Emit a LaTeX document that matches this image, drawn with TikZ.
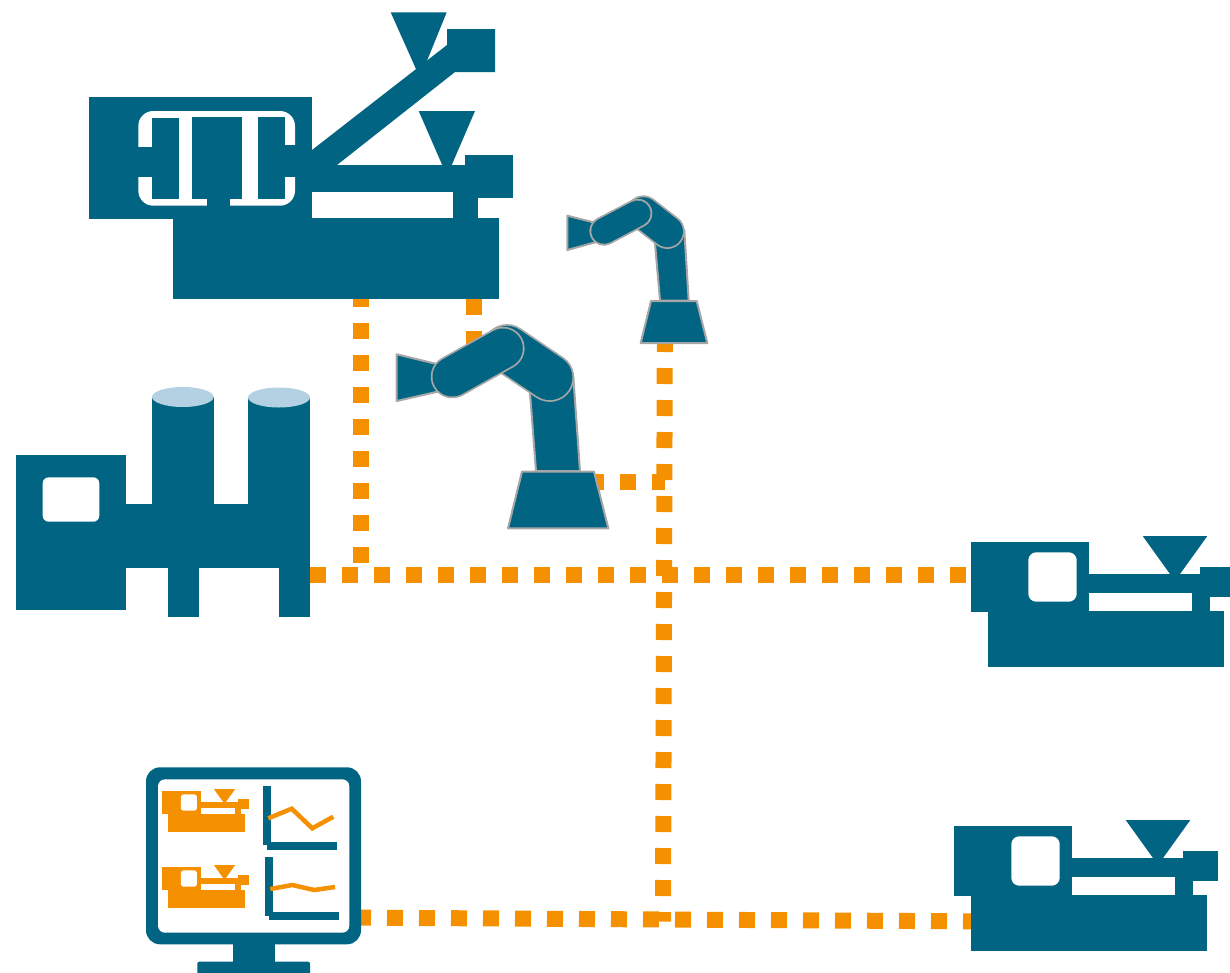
\documentclass[tikz,border=0pt]{standalone}
\definecolor{teal}{HTML}{006482}
\definecolor{orng}{HTML}{F59100}
\definecolor{pale}{HTML}{B4D1E3}
\definecolor{edge}{HTML}{A6A6A6}
\tikzset{
  x=1pt,y=-1pt,
  wire/.style={draw=orng,line width=16pt,dash pattern=on 16pt off 16pt},
  robotpart/.style={fill=teal,draw=edge,line width=2pt,line join=round},
}
% capsule with grey outline: #1 half width, #2 and #3 the end centres
\newcommand{\capsule}[3]{%
  \draw[edge,line width=#1*2pt+1.8pt,line cap=round] #2 -- #3;
  \draw[teal,line width=#1*2pt-1.8pt,line cap=round] #2 -- #3;}
% side-on machine, drawn from the upper left corner of its head; #6 moves the hopper
\newcommand{\machine}[6]{%
  \begin{scope}[shift={(#1,#2)},scale=#3]
    \fill[#4] (0,0) rectangle (118,70);
    \fill[#4] (17,69) rectangle (253,125);
    \fill[#4] (118,32) rectangle (229,51);
    \fill[#4] (229,25) rectangle (264,55);
    \fill[#4] (221,51) rectangle (239,69);
    \fill[#4] (171.7+#6,-6) -- (236.3+#6,-6) -- (204+#6,39) -- cycle;
    \fill[#5,rounded corners=#3*8pt] (57.3,10.3) rectangle (105.7,59.7);
  \end{scope}}
\begin{document}
\begin{tikzpicture}
\useasboundingbox (0,0) rectangle (1230,972);
\clip (0,0) rectangle (1230,972);

\coordinate (pressA) at (361.4,291);
\coordinate (pressB) at (473.5,299);
\coordinate (silo) at (310,574.5);
\coordinate (lineEnd) at (966,574.5);
\coordinate (corner1) at (361.4,563);
\coordinate (corner2) at (473.5,360);
\coordinate (robotTap) at (665,481.5);
\coordinate (robotTapEnd) at (560,481.5);
\coordinate (busTop) at (664.8,336);
\coordinate (busEnd) at (663,921.7);
\coordinate (screen) at (355,917.6);
\coordinate (press3) at (979,921.4);

% dotted connectors
\draw[wire] (pressA) -- (corner1);
\draw[wire] (pressB) -- (corner2);
\draw[wire,dash phase=3pt] (robotTap) -- (robotTapEnd);
\draw[wire] (silo) -- (lineEnd);
\draw[wire] (busTop) -- (busEnd);
\draw[wire] (screen) -- (press3);

% large press
\fill[teal] (89,97) rectangle (312,219);
\fill[teal] (173,218) rectangle (499,299);
\fill[teal] (312,165) rectangle (465,192);
\fill[teal] (465,155) rectangle (513,198);
\fill[teal] (453,192) rectangle (478,218);
\fill[teal] (418.7,111) -- (475,111) -- (447,176) -- cycle;
\fill[teal] (312,150) -- (447,45) -- (447,29) -- (495,29) -- (495,72) -- (455,72) -- (337,165) -- (312,165) -- cycle;
\fill[teal] (390.7,12.3) -- (446.7,12.3) -- (420,78) -- cycle;
\fill[white,rounded corners=15pt] (138.3,111) rectangle (295,205.7);
\fill[teal] (152,118) rectangle (179.3,199);
\fill[teal] (138,146.7) rectangle (152,176.7);
\fill[teal] (192,117) rectangle (242,199);
\fill[teal] (207,199) rectangle (230,219);
\fill[teal] (258,117) rectangle (285,199);
\fill[teal] (285,145) rectangle (296,177);

% silo machine
\fill[teal] (16,455) rectangle (126,610);
\fill[teal] (126,504) rectangle (310,568);
\fill[teal] (152,397) rectangle (213.7,504);
\fill[teal] (248,397.5) rectangle (310,504);
\fill[teal] (168,568) rectangle (199,617);
\fill[teal] (279,568) rectangle (310,617);
\fill[pale] (182.8,397) ellipse [x radius=30.8pt,y radius=10pt];
\fill[pale] (279,397.5) ellipse [x radius=31pt,y radius=10pt];
\fill[white,rounded corners=6pt] (42.7,477.3) rectangle (99.3,521.7);

% two presses on the right
\machine{971}{542}{1}{teal}{white}{0}
\machine{954}{826}{1}{teal}{white}{0}

% large robot
\draw[robotpart] (396.7,354.3) -- (445,366) -- (445,390) -- (396.7,401) -- cycle;
\draw[robotpart] (530,393) -- (536,471) -- (580,471) -- (573.3,376.7) -- cycle;
\capsule{23.5}{(507,348.5)}{(549.8,377.5)}
\draw[robotpart] (522,471.5) -- (594,471.5) -- (608.3,528.3) -- (508,528.3) -- cycle;
\capsule{20.7}{(452.3,376.7)}{(503,348.3)}

% small robot
\draw[robotpart] (567.3,215.7) -- (600,224) -- (600,241) -- (567.3,250) -- cycle;
\draw[robotpart] (655,243.3) -- (660,300.7) -- (688.7,300.7) -- (684.3,230) -- cycle;
\capsule{16.5}{(643.3,212.8)}{(667.3,231.5)}
\draw[robotpart] (651,301) -- (696.7,301) -- (707.3,343) -- (640.7,343) -- cycle;
\capsule{13.7}{(604,231)}{(637.7,213.3)}

% monitor
\fill[teal,rounded corners=2pt] (197.3,961.7) rectangle (310,980);
\fill[teal] (233,940) rectangle (275,965);
\fill[teal,rounded corners=14pt] (146,767.3) rectangle (361,944.3);
\fill[white,rounded corners=7pt] (158,779.3) rectangle (349.3,932.7);
\machine{162}{791}{0.33}{orng}{white}{-14.5}
\machine{162}{867}{0.33}{orng}{white}{-14.5}
\fill[teal] (263.3,786.3) rectangle (271.3,845.3);
\fill[teal] (266.7,841.7) rectangle (337,849.7);
\draw[orng,line width=4.5pt] (268.3,818.3) -- (291.7,808.7) -- (312.3,828.3) -- (333.3,816.7);
\fill[teal] (265.3,857) rectangle (273.3,916);
\fill[teal] (268.7,912.3) rectangle (339,920.3);
\draw[orng,line width=4.5pt] (270.3,889) -- (292.3,885) -- (314.3,890) -- (335,887);
\end{tikzpicture}
\end{document}
